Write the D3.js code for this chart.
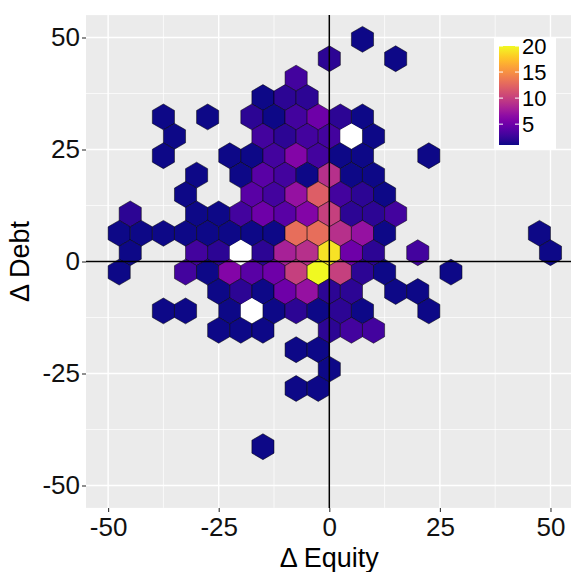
<!DOCTYPE html>
<html>
<head>
<meta charset="utf-8">
<script src="https://cdn.jsdelivr.net/npm/d3@7"></script>
<style>
  body { margin: 0; background: #fff; }
  text { font-family: "Liberation Sans", Arial, sans-serif; }
</style>
</head>
<body>
<div id="chart"></div>
<script>
const W = 571, H = 572;

// hexagon bins: centre (Δ Equity, Δ Debt) and count
// a null count is a bin drawn white (no value)
const hexEquity = [
  7.5,
  0, 15,
  -7.5,
  -15, -10, -5,
  -37.5, -27.5, -17.5, -12.5, -7.5, -2.5, 2.5, 7.5,
  -35, -15, -10, -5, 0, 5, 10,
  -37.5, -22.5, -17.5, -12.5, -7.5, -2.5, 2.5, 7.5, 22.5,
  -30, -20, -15, -10, -5, 0, 5, 10,
  -32.5, -17.5, -12.5, -7.5, -2.5, 2.5, 7.5, 12.5,
  -45, -30, -25, -20, -15, -10, -5, 0, 5, 10, 15,
  -47.5, -42.5, -37.5, -32.5, -27.5, -22.5, -17.5, -12.5, -7.5, -2.5, 2.5, 7.5, 12.5, 47.5,
  -45, -30, -25, -20, -15, -10, -5, 0, 5, 10, 20, 50,
  -47.5, -32.5, -27.5, -22.5, -17.5, -12.5, -7.5, -2.5, 2.5, 7.5, 12.5, 27.5,
  -25, -20, -15, -10, -5, 0, 5, 15, 20,
  -37.5, -32.5, -22.5, -17.5, -12.5, -7.5, -2.5, 2.5, 7.5, 22.5,
  -25, -20, -15, 0, 5, 10,
  -7.5, -2.5,
  0,
  -7.5, -2.5,
  -15
];
const hexDebt = [
  49.6,
  45.3, 45.3,
  40.9,
  36.6, 36.6, 36.6,
  32.3, 32.3, 32.3, 32.3, 32.3, 32.3, 32.3, 32.3,
  27.9, 27.9, 27.9, 27.9, 27.9, 27.9, 27.9,
  23.6, 23.6, 23.6, 23.6, 23.6, 23.6, 23.6, 23.6, 23.6,
  19.3, 19.3, 19.3, 19.3, 19.3, 19.3, 19.3, 19.3,
  15.0, 15.0, 15.0, 15.0, 15.0, 15.0, 15.0, 15.0,
  10.6, 10.6, 10.6, 10.6, 10.6, 10.6, 10.6, 10.6, 10.6, 10.6, 10.6,
  6.3, 6.3, 6.3, 6.3, 6.3, 6.3, 6.3, 6.3, 6.3, 6.3, 6.3, 6.3, 6.3, 6.3,
  2.0, 2.0, 2.0, 2.0, 2.0, 2.0, 2.0, 2.0, 2.0, 2.0, 2.0, 2.0,
  -2.4, -2.4, -2.4, -2.4, -2.4, -2.4, -2.4, -2.4, -2.4, -2.4, -2.4, -2.4,
  -6.7, -6.7, -6.7, -6.7, -6.7, -6.7, -6.7, -6.7, -6.7,
  -11.0, -11.0, -11.0, -11.0, -11.0, -11.0, -11.0, -11.0, -11.0, -11.0,
  -15.4, -15.4, -15.4, -15.4, -15.4, -15.4,
  -19.7, -19.7,
  -24.0,
  -28.4, -28.4,
  -41.3
];
const hexCount = [
  1,
  2, 1,
  3,
  1, 2, 2,
  1, 1, 2, 1, 3, 5, 2, 1,
  1, 3, 2, 3, 3, null, 1,
  1, 1, 1, 3, 6, 3, 1, 1, 1,
  1, 1, 4, 3, 1, 9, 1, 1,
  1, 4, 3, 7, 12, 3, 2, 1,
  2, 1, 1, 3, 5, 4, 6, 10, 2, 2, 3,
  1, 1, 1, 1, 1, 1, 1, 1, 13, 13, 9, 7, 1, 1,
  1, 3, 2, null, 2, 8, 9, 19, 5, 2, 3, 1,
  1, 3, 1, 6, 4, 5, 10, 20, 10, 2, 1, 1,
  1, 2, 1, 5, 7, 2, 2, 1, 1,
  1, 1, 1, null, 1, 2, 1, 2, 1, 1,
  1, 1, 1, 2, 3, 3,
  1, 1,
  1,
  1, 1,
  1
];

const xTicks = [-50, -25, 0, 25, 50];
const yTicks = [-50, -25, 0, 25, 50];
const xMinor = [-37.5, -12.5, 12.5, 37.5];
const yMinor = [-37.5, -12.5, 12.5, 37.5];
const legendTicks = [5, 10, 15, 20];
const countRange = [1, 20];

// hex lattice (binwidth 5 in both directions)
const binW = 5;
const rowH = binW * Math.sqrt(3) / 2;
const yOrigin = -50;

const x = d3.scaleLinear().domain([-55, 55]).range([86, 572.6]);
const y = d3.scaleLinear().domain([-55, 55]).range([507.9, 15.1]);
const color = d3.scaleSequential(d3.interpolatePlasma).domain(countRange);

const svg = d3.select("#chart").append("svg")
    .attr("width", W)
    .attr("height", H);

const panel = { x0: x(-55), x1: Math.min(W, x(55)), y0: y(55), y1: y(-55) };

svg.append("rect")
    .attr("x", panel.x0).attr("y", panel.y0)
    .attr("width", panel.x1 - panel.x0)
    .attr("height", panel.y1 - panel.y0)
    .attr("fill", "#ebebeb");

// grid
const grid = svg.append("g");
grid.selectAll(".vminor").data(xMinor).enter().append("line")
    .attr("x1", d => x(d)).attr("x2", d => x(d))
    .attr("y1", panel.y0).attr("y2", panel.y1)
    .attr("stroke", "#fff").attr("stroke-width", 0.7);
grid.selectAll(".hminor").data(yMinor).enter().append("line")
    .attr("y1", d => y(d)).attr("y2", d => y(d))
    .attr("x1", panel.x0).attr("x2", panel.x1)
    .attr("stroke", "#fff").attr("stroke-width", 0.7);
grid.selectAll(".vmajor").data(xTicks).enter().append("line")
    .attr("x1", d => x(d)).attr("x2", d => x(d))
    .attr("y1", panel.y0).attr("y2", panel.y1)
    .attr("stroke", "#fff").attr("stroke-width", 1.4);
grid.selectAll(".hmajor").data(yTicks).enter().append("line")
    .attr("y1", d => y(d)).attr("y2", d => y(d))
    .attr("x1", panel.x0).attr("x2", panel.x1)
    .attr("stroke", "#fff").attr("stroke-width", 1.4);

// hexagons
const bins = hexEquity.map((e, i) => {
    const k = Math.round((hexDebt[i] - yOrigin) / rowH);
    return { cx: e, cy: yOrigin + k * rowH, n: hexCount[i] };
});

const hh = rowH / 3;
function hexPoints(d) {
    const v = [
        [d.cx + binW / 2, d.cy + hh],
        [d.cx, d.cy + 2 * hh],
        [d.cx - binW / 2, d.cy + hh],
        [d.cx - binW / 2, d.cy - hh],
        [d.cx, d.cy - 2 * hh],
        [d.cx + binW / 2, d.cy - hh]
    ];
    return v.map(p => x(p[0]) + "," + y(p[1])).join(" ");
}

svg.append("g").selectAll("polygon")
    .data(bins)
    .enter().append("polygon")
    .attr("points", hexPoints)
    .attr("fill", d => d.n == null ? "#ffffff" : color(d.n))
    .attr("stroke", d => d.n == null ? "none" : "#000")
    .attr("stroke-opacity", 0.85)
    .attr("stroke-width", 0.6);

// zero lines
svg.append("line")
    .attr("x1", x(0)).attr("x2", x(0))
    .attr("y1", panel.y0).attr("y2", panel.y1)
    .attr("stroke", "#000").attr("stroke-width", 1.5);
svg.append("line")
    .attr("y1", y(0)).attr("y2", y(0))
    .attr("x1", panel.x0).attr("x2", panel.x1)
    .attr("stroke", "#000").attr("stroke-width", 1.5);

// axes
const xAxis = svg.append("g")
    .attr("transform", "translate(0," + panel.y1 + ")")
    .call(d3.axisBottom(x).tickValues(xTicks).tickSize(4).tickPadding(6)
        .tickFormat(d => String(d)));
const yAxis = svg.append("g")
    .attr("transform", "translate(" + panel.x0 + ",0)")
    .call(d3.axisLeft(y).tickValues(yTicks).tickSize(4).tickPadding(2)
        .tickFormat(d => String(d)));

[xAxis, yAxis].forEach(a => {
    a.select(".domain").remove();
    a.selectAll(".tick line").attr("stroke", "#333").attr("stroke-width", 1.1);
    a.selectAll(".tick text")
        .attr("fill", "#111")
        .style("font-size", "26px")
        .style("font-family", "'Liberation Sans', Arial, sans-serif");
});

// axis titles
svg.append("text")
    .attr("x", (panel.x0 + x(55)) / 2)
    .attr("y", 567)
    .attr("text-anchor", "middle")
    .attr("fill", "#000")
    .style("font-size", "27px")
    .text("Δ Equity");

svg.append("text")
    .attr("transform", "translate(29," + ((panel.y0 + panel.y1) / 2) + ") rotate(-90)")
    .attr("text-anchor", "middle")
    .attr("fill", "#000")
    .style("font-size", "27px")
    .text("Δ Debt");

// legend
const legend = svg.append("g");
legend.append("rect")
    .attr("x", 494).attr("y", 37)
    .attr("width", 62).attr("height", 113)
    .attr("fill", "#fff");

const yL = d3.scaleLinear().domain(countRange).range([145, 46]);
const grad = svg.append("defs").append("linearGradient")
    .attr("id", "plasmaBar")
    .attr("x1", 0).attr("x2", 0).attr("y1", 1).attr("y2", 0);
d3.range(0, 1.0001, 0.05).forEach(t => {
    grad.append("stop")
        .attr("offset", t)
        .attr("stop-color", d3.interpolatePlasma(t));
});

legend.append("rect")
    .attr("x", 499).attr("y", yL(20))
    .attr("width", 20).attr("height", yL(1) - yL(20))
    .attr("fill", "url(#plasmaBar)");

legend.selectAll(".tl").data(legendTicks).enter().append("line")
    .attr("x1", 499).attr("x2", 503)
    .attr("y1", d => yL(d)).attr("y2", d => yL(d))
    .attr("stroke", "#fff").attr("stroke-width", 1);
legend.selectAll(".tr").data(legendTicks).enter().append("line")
    .attr("x1", 515).attr("x2", 519)
    .attr("y1", d => yL(d)).attr("y2", d => yL(d))
    .attr("stroke", "#fff").attr("stroke-width", 1);
legend.selectAll(".lab").data(legendTicks).enter().append("text")
    .attr("x", 522)
    .attr("y", d => yL(d) + 8)
    .attr("fill", "#000")
    .style("font-size", "22px")
    .text(d => d);
</script>
</body>
</html>
